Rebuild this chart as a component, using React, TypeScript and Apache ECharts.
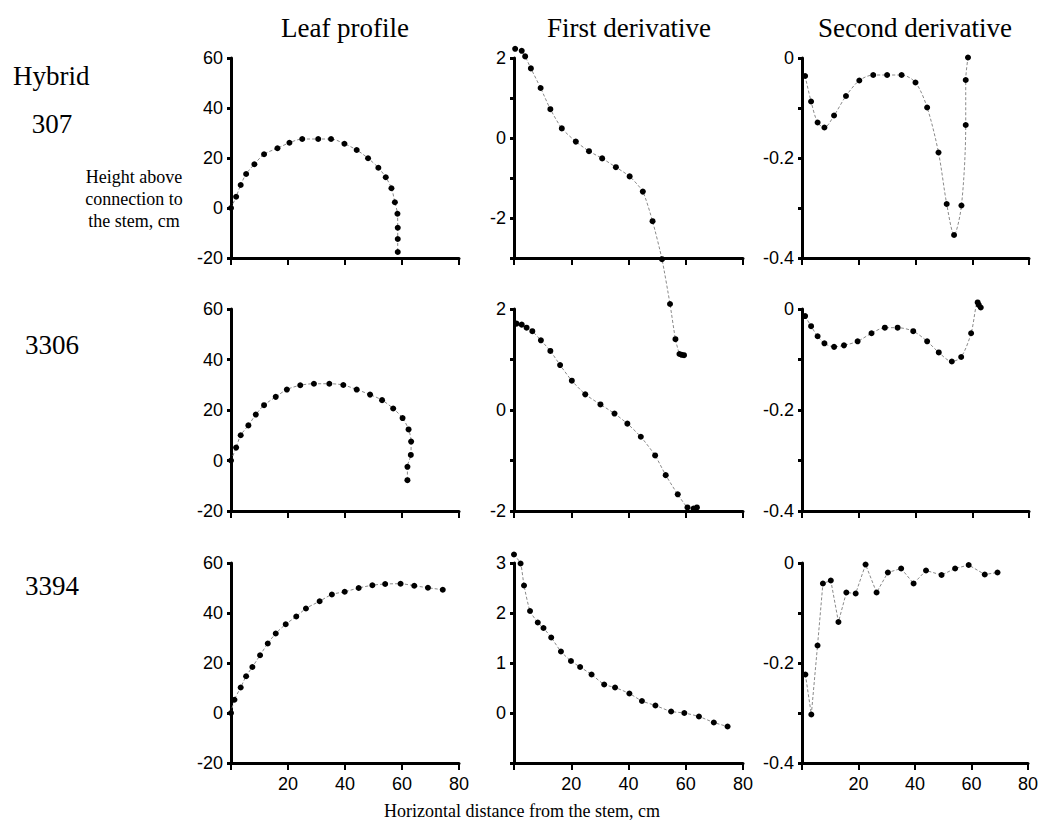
import React, { useEffect, useRef } from "react";
import * as echarts from "echarts";

const columnTitles = ["Leaf profile", "First derivative", "Second derivative"];
const hybrids = ["307", "3306", "3394"];
const xTickLabels = ["20", "40", "60", "80"];

// Hybrid 307
const x307Leaf = [0, 1.8, 3.4, 5.3, 8.2, 11.6, 16.3, 20.5, 25, 30.6, 35.1, 39.8, 44.1, 48.1, 51.7, 54.3, 56.3, 57.5, 58.4, 58.5, 58.5, 58.5];
const y307Leaf = [0, 4.5, 9.2, 13.6, 17.5, 21.5, 23.9, 26.1, 27.6, 27.6, 27.6, 25.7, 23.2, 19.9, 16.1, 12.3, 7.9, 2.3, -2.3, -7.9, -12.4, -17.6];
const x307First = [0.4, 2.7, 3.9, 5.9, 9.3, 12.7, 16.7, 21.6, 26.2, 30.8, 35.6, 40.4, 45, 48.4, 51.7, 54.5, 56.4, 57.8, 58.6, 59.4];
const y307First = [2.23, 2.18, 2.04, 1.74, 1.25, 0.72, 0.24, -0.09, -0.33, -0.51, -0.73, -0.96, -1.34, -2.08, -3.03, -4.15, -5.03, -5.4, -5.42, -5.43];
const x307Second = [1.1, 3.2, 5.5, 7.9, 11.3, 15.5, 20.2, 25.1, 30, 35.1, 40, 44.1, 48.1, 51, 53.6, 56.2, 57.7, 57.7, 58.5];
const y307Second = [-0.036, -0.087, -0.129, -0.139, -0.115, -0.076, -0.045, -0.034, -0.034, -0.034, -0.049, -0.099, -0.189, -0.292, -0.354, -0.295, -0.134, -0.044, 0.001];

// Hybrid 3306
const x3306Leaf = [0, 1.8, 3.4, 6.1, 8.7, 11.6, 15.7, 19.6, 24.3, 29.1, 34.5, 39.4, 44.1, 48.8, 53, 56.9, 60.2, 62.3, 63.2, 63.1, 61.9, 61.9];
const y3306Leaf = [0, 5.1, 10, 13.9, 18.2, 21.9, 25.2, 28.1, 29.8, 30.4, 30.4, 29.9, 28.1, 26.1, 23.9, 20.6, 16.8, 12.3, 7.5, 2.2, -2.5, -7.8];
const x3306First = [0.9, 2.7, 4.4, 6.4, 9.4, 12.7, 16.1, 20.2, 24.9, 30.2, 35.1, 39.6, 44.3, 49.3, 53, 57.2, 60.6, 62.7, 63.9];
const y3306First = [1.71, 1.69, 1.63, 1.56, 1.38, 1.17, 0.89, 0.58, 0.31, 0.11, -0.07, -0.27, -0.53, -0.9, -1.29, -1.67, -1.93, -1.95, -1.93];
const x3306Second = [1.1, 3.2, 5.5, 7.9, 11.3, 14.8, 19.6, 24.5, 29.2, 33.7, 39.2, 44.1, 48.2, 52.8, 56.1, 59.6, 61.9, 62.3, 63];
const y3306Second = [-0.014, -0.034, -0.054, -0.068, -0.075, -0.072, -0.064, -0.048, -0.037, -0.037, -0.044, -0.064, -0.086, -0.104, -0.095, -0.048, 0.013, 0.008, 0.003];

// Hybrid 3394
const x3394Leaf = [0, 1.2, 3.4, 5.3, 7.5, 10.2, 12.9, 15.7, 19.2, 22.9, 26.3, 31.1, 35.4, 39.9, 44.8, 49.6, 54.1, 59.5, 64.3, 69.1, 74.3];
const y3394Leaf = [0, 5.3, 10.2, 14.7, 18.4, 23.1, 27.8, 31.8, 35.5, 38.6, 41.8, 44.7, 47.4, 48.5, 50, 51.1, 51.6, 51.7, 50.9, 50.1, 49.3];
const x3394First = [0, 2.3, 3.5, 5.6, 8.3, 10.3, 13, 16.4, 19.9, 23.1, 27.1, 31.5, 35.3, 40.3, 44.7, 49.4, 54.9, 59.5, 64.6, 69.8, 74.6];
const y3394First = [3.17, 2.99, 2.55, 2.04, 1.81, 1.7, 1.51, 1.23, 1.04, 0.92, 0.77, 0.57, 0.51, 0.39, 0.24, 0.15, 0.03, 0, -0.07, -0.19, -0.27];
const x3394Second = [1.2, 3.3, 5.5, 7.4, 10.2, 12.9, 15.7, 19, 22.5, 26.4, 30.4, 35.1, 39.5, 43.9, 49.4, 54.2, 59, 64.7, 69.2];
const y3394Second = [-0.223, -0.303, -0.165, -0.041, -0.035, -0.118, -0.059, -0.061, -0.003, -0.059, -0.019, -0.011, -0.041, -0.015, -0.024, -0.011, -0.004, -0.023, -0.019];

// y-axis ranges per panel
const leafAxis = { min: -20, max: 60, interval: 20, labels: ["-20", "0", "20", "40", "60"] };
const first307Axis = { min: -3, max: 2, interval: 1, labels: ["-2", "0", "2"] };
const first3306Axis = { min: -2, max: 2, interval: 1, labels: ["-2", "0", "2"] };
const first3394Axis = { min: -1, max: 3, interval: 1, labels: ["0", "1", "2", "3"] };
const secondAxis = { min: -0.4, max: 0, interval: 0.1, labels: ["-0.4", "-0.2", "0"] };

const SERIF = "'Liberation Serif', 'Times New Roman', serif";
const SANS = "'Liberation Sans', Arial, sans-serif";

export default function App() {
  const ref = useRef<HTMLDivElement>(null);
  useEffect(() => {
    if (!ref.current) return;
    const chart = echarts.init(ref.current, undefined, { renderer: "svg" });

    const panels = [
      { xs: x307Leaf, ys: y307Leaf, axis: leafAxis, smooth: 0.3 },
      { xs: x307First, ys: y307First, axis: first307Axis, smooth: 0.2 },
      { xs: x307Second, ys: y307Second, axis: secondAxis, smooth: 0.3 },
      { xs: x3306Leaf, ys: y3306Leaf, axis: leafAxis, smooth: 0.3 },
      { xs: x3306First, ys: y3306First, axis: first3306Axis, smooth: 0.2 },
      { xs: x3306Second, ys: y3306Second, axis: secondAxis, smooth: 0.3 },
      { xs: x3394Leaf, ys: y3394Leaf, axis: leafAxis, smooth: 0.3 },
      { xs: x3394First, ys: y3394First, axis: first3394Axis, smooth: 0.2 },
      { xs: x3394Second, ys: y3394Second, axis: secondAxis, smooth: false },
    ];

    const colLeft = [231, 514, 802];
    const colWidth = [228, 229, 227];
    const rowTop = [58, 309, 563];
    const rowHeight = [200, 202, 200];

    const grids: any[] = [];
    const xAxes: any[] = [];
    const yAxes: any[] = [];
    const series: any[] = [];

    panels.forEach((p, i) => {
      const r = Math.floor(i / 3);
      const c = i % 3;
      grids.push({ left: colLeft[c], top: rowTop[r], width: colWidth[c], height: rowHeight[r], containLabel: false });
      xAxes.push({
        type: "value",
        gridIndex: i,
        min: 0,
        max: 80,
        interval: 20,
        axisLine: { show: true, onZero: false, lineStyle: { color: "#000", width: 3 } },
        axisTick: { show: true, length: 7, lineStyle: { color: "#000", width: 2 } },
        splitLine: { show: false },
        axisLabel: {
          show: r === 2,
          margin: 12,
          color: "#000",
          fontFamily: SANS,
          fontSize: 18,
          formatter: (v: number) => (xTickLabels.includes(String(v)) ? String(v) : ""),
        },
      });
      const labels = p.axis.labels;
      yAxes.push({
        type: "value",
        gridIndex: i,
        min: p.axis.min,
        max: p.axis.max,
        interval: p.axis.interval,
        axisLine: { show: true, onZero: false, lineStyle: { color: "#000", width: 3 } },
        axisTick: { show: true, length: 4, lineStyle: { color: "#000", width: 3 } },
        splitLine: { show: false },
        axisLabel: {
          margin: 8,
          color: "#000",
          fontFamily: SANS,
          fontSize: 18,
          formatter: (v: number) => {
            const s = String(Math.round(v * 1000) / 1000);
            return labels.includes(s) ? s : "";
          },
        },
      });
      series.push({
        type: "line",
        xAxisIndex: i,
        yAxisIndex: i,
        data: p.xs.map((x, k) => [x, p.ys[k]]),
        smooth: p.smooth,
        clip: false,
        symbol: "circle",
        symbolSize: 6,
        itemStyle: { color: "#000" },
        lineStyle: { color: "#8a8a8a", width: 1, type: [3, 2] },
        z: 3,
      });
    });

    const graphic: any[] = [];
    const titleX = [345, 629, 915];
    columnTitles.forEach((t, k) => {
      graphic.push({
        type: "text",
        x: titleX[k],
        y: 28,
        style: { text: t, font: `27px ${SERIF}`, fill: "#000", textAlign: "center", textVerticalAlign: "middle" },
      });
    });
    graphic.push({
      type: "text",
      x: 13,
      y: 76,
      style: { text: "Hybrid", font: `27px ${SERIF}`, fill: "#000", textAlign: "left", textVerticalAlign: "middle" },
    });
    const hybridPos = [
      [52, 124],
      [52, 345],
      [52, 586],
    ];
    hybrids.forEach((h, k) => {
      graphic.push({
        type: "text",
        x: hybridPos[k][0],
        y: hybridPos[k][1],
        style: { text: h, font: `27px ${SERIF}`, fill: "#000", textAlign: "center", textVerticalAlign: "middle" },
      });
    });
    graphic.push({
      type: "text",
      x: 134,
      y: 199,
      style: {
        text: "Height above\nconnection to\nthe stem, cm",
        font: `18px ${SERIF}`,
        lineHeight: 22,
        fill: "#000",
        textAlign: "center",
        textVerticalAlign: "middle",
      },
    });
    graphic.push({
      type: "text",
      x: 522,
      y: 811,
      style: {
        text: "Horizontal distance from the stem, cm",
        font: `18px ${SERIF}`,
        fill: "#000",
        textAlign: "center",
        textVerticalAlign: "middle",
      },
    });

    chart.setOption({
      animation: false,
      backgroundColor: "#fff",
      grid: grids,
      xAxis: xAxes,
      yAxis: yAxes,
      series,
      graphic,
    });
    return () => chart.dispose();
  }, []);

  return (
    <div
      ref={ref}
      style={{ position: "fixed", left: 0, top: 0, width: 1041, height: 826, background: "#fff" }}
    />
  );
}
